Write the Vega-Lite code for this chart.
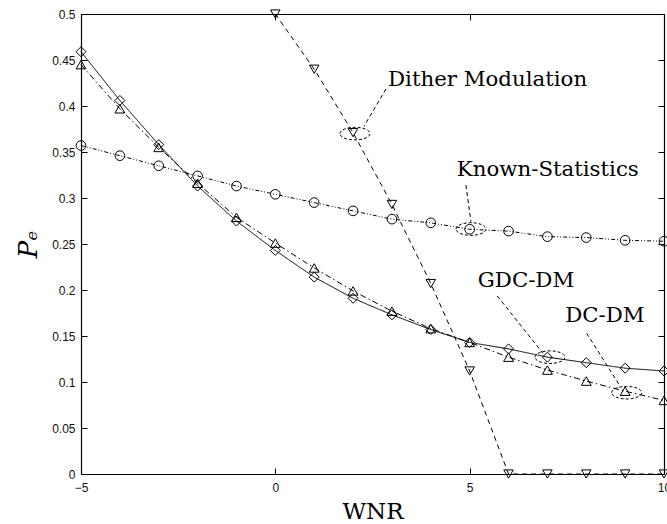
{
  "$schema": "https://vega.github.io/schema/vega-lite/v6.json",
  "width": 583,
  "height": 460,
  "autosize": "none",
  "padding": {"left": 81, "top": 14, "right": 3, "bottom": 50},
  "background": "white",
  "config": {
    "view": {"stroke": null},
    "axis": {
      "grid": false,
      "domainColor": "black",
      "domainWidth": 1.2,
      "tickColor": "black",
      "tickWidth": 1,
      "labelFont": "Liberation Sans",
      "labelFontSize": 12,
      "labelColor": "#111",
      "labelFlush": false,
      "labelOverlap": false
    }
  },
  "datasets": {
    "curves": [
      {"s": "GDC-DM", "x": -5, "y": 0.459}, {"s": "GDC-DM", "x": -4, "y": 0.406}, {"s": "GDC-DM", "x": -3, "y": 0.358}, {"s": "GDC-DM", "x": -2, "y": 0.313},
      {"s": "GDC-DM", "x": -1, "y": 0.275}, {"s": "GDC-DM", "x": 0, "y": 0.243}, {"s": "GDC-DM", "x": 1, "y": 0.214}, {"s": "GDC-DM", "x": 2, "y": 0.191},
      {"s": "GDC-DM", "x": 3, "y": 0.173}, {"s": "GDC-DM", "x": 4, "y": 0.157}, {"s": "GDC-DM", "x": 5, "y": 0.143}, {"s": "GDC-DM", "x": 6, "y": 0.136},
      {"s": "GDC-DM", "x": 7, "y": 0.127}, {"s": "GDC-DM", "x": 8, "y": 0.121}, {"s": "GDC-DM", "x": 9, "y": 0.115}, {"s": "GDC-DM", "x": 10, "y": 0.112},
      {"s": "DC-DM", "x": -5, "y": 0.445}, {"s": "DC-DM", "x": -4, "y": 0.397}, {"s": "DC-DM", "x": -3, "y": 0.355}, {"s": "DC-DM", "x": -2, "y": 0.316},
      {"s": "DC-DM", "x": -1, "y": 0.279}, {"s": "DC-DM", "x": 0, "y": 0.251}, {"s": "DC-DM", "x": 1, "y": 0.224}, {"s": "DC-DM", "x": 2, "y": 0.199},
      {"s": "DC-DM", "x": 3, "y": 0.177}, {"s": "DC-DM", "x": 4, "y": 0.158}, {"s": "DC-DM", "x": 5, "y": 0.143}, {"s": "DC-DM", "x": 6, "y": 0.127},
      {"s": "DC-DM", "x": 7, "y": 0.113}, {"s": "DC-DM", "x": 8, "y": 0.101}, {"s": "DC-DM", "x": 9, "y": 0.09}, {"s": "DC-DM", "x": 10, "y": 0.08},
      {"s": "KS", "x": -5, "y": 0.357}, {"s": "KS", "x": -4, "y": 0.346}, {"s": "KS", "x": -3, "y": 0.335}, {"s": "KS", "x": -2, "y": 0.324},
      {"s": "KS", "x": -1, "y": 0.313}, {"s": "KS", "x": 0, "y": 0.304}, {"s": "KS", "x": 1, "y": 0.295}, {"s": "KS", "x": 2, "y": 0.286},
      {"s": "KS", "x": 3, "y": 0.277}, {"s": "KS", "x": 4, "y": 0.273}, {"s": "KS", "x": 5, "y": 0.266}, {"s": "KS", "x": 6, "y": 0.264},
      {"s": "KS", "x": 7, "y": 0.258}, {"s": "KS", "x": 8, "y": 0.257}, {"s": "KS", "x": 9, "y": 0.254}, {"s": "KS", "x": 10, "y": 0.253},
      {"s": "DM", "x": 0, "y": 0.5}, {"s": "DM", "x": 1, "y": 0.44}, {"s": "DM", "x": 2, "y": 0.371}, {"s": "DM", "x": 3, "y": 0.293},
      {"s": "DM", "x": 4, "y": 0.207}, {"s": "DM", "x": 5, "y": 0.112}, {"s": "DM", "x": 6, "y": 0}, {"s": "DM", "x": 7, "y": 0},
      {"s": "DM", "x": 8, "y": 0}, {"s": "DM", "x": 9, "y": 0}, {"s": "DM", "x": 10, "y": 0}
    ],
    "labels": [
      {"label": "Dither Modulation", "x": 5.46, "y": 0.4217},
      {"label": "Known-Statistics", "x": 7.01, "y": 0.3242},
      {"label": "GDC-DM", "x": 6.45, "y": 0.2036},
      {"label": "DC-DM", "x": 8.48, "y": 0.1652}
    ],
    "leaders": [
      {"x": 2.847, "y": 0.4185, "x2": 2.281, "y2": 0.378},
      {"x": 4.905, "y": 0.314, "x2": 5.033, "y2": 0.2742},
      {"x": 5.71, "y": 0.1935, "x2": 6.886, "y2": 0.1312},
      {"x": 8.01, "y": 0.153, "x2": 8.867, "y2": 0.0957}
    ],
    "rings": [
      {"x": 2.049, "y": 0.37},
      {"x": 5.033, "y": 0.2663},
      {"x": 7.066, "y": 0.127},
      {"x": 9.04, "y": 0.0884}
    ]
  },
  "layer": [
    {
      "data": {"name": "curves"},
      "mark": {"type": "line", "color": "black", "strokeWidth": 1},
      "encoding": {
        "x": {"field": "x", "type": "quantitative", "scale": {"domain": [-5, 10], "nice": false, "zero": false},
          "axis": {"orient": "bottom", "values": [-5, 0, 5, 10], "format": "d", "tickSize": -6, "labelPadding": 14,
            "title": "WNR", "titleFont": "DejaVu Serif", "titleFontSize": 23, "titleFontWeight": "normal", "titleColor": "black",
            "titleY": 44, "titleBaseline": "alphabetic"}},
        "y": {"field": "y", "type": "quantitative", "scale": {"domain": [0, 0.5], "nice": false},
          "axis": {"orient": "left", "values": [0, 0.05, 0.1, 0.15, 0.2, 0.25, 0.3, 0.35, 0.4, 0.45, 0.5], "format": "~g", "tickSize": -6, "labelPadding": 12,
            "title": "Pₑ", "titleFont": "DejaVu Serif", "titleFontStyle": "italic", "titleFontSize": 26, "titleFontWeight": "normal", "titleColor": "black",
            "titleX": -53, "titleY": 230, "titleAngle": -90, "titleAlign": "center", "titleBaseline": "middle"}},
        "detail": {"field": "s", "type": "nominal"},
        "strokeDash": {"field": "s", "type": "nominal", "legend": null,
          "scale": {"domain": ["GDC-DM", "DC-DM", "KS", "DM"], "range": [[1, 0], [6, 3, 1.5, 3], [4, 2, 1, 2, 1, 2], [5, 4]]}}
      }
    },
    {
      "data": {"name": "curves"},
      "mark": {"type": "point", "filled": false, "stroke": "black", "strokeWidth": 1, "opacity": 1},
      "encoding": {
        "x": {"field": "x", "type": "quantitative", "axis": null},
        "y": {"field": "y", "type": "quantitative", "axis": null},
        "shape": {"field": "s", "type": "nominal", "legend": null,
          "scale": {"domain": ["GDC-DM", "DC-DM", "KS", "DM"], "range": ["diamond", "triangle-up", "circle", "triangle-down"]}},
        "size": {"field": "s", "type": "nominal", "legend": null,
          "scale": {"domain": ["GDC-DM", "DC-DM", "KS", "DM"], "range": [100, 90, 56, 90]}}
      }
    },
    {
      "data": {"name": "leaders"},
      "mark": {"type": "rule", "color": "black", "strokeWidth": 1, "strokeDash": [4, 3]},
      "encoding": {
        "x": {"field": "x", "type": "quantitative", "axis": null},
        "y": {"field": "y", "type": "quantitative", "axis": null},
        "x2": {"field": "x2"},
        "y2": {"field": "y2"}
      }
    },
    {
      "data": {"name": "rings"},
      "mark": {"type": "point", "filled": false, "stroke": "black", "strokeWidth": 1, "strokeDash": [3, 2], "opacity": 1, "size": 900,
        "shape": "M -1 0 C -1 -0.232 -0.552 -0.42 0 -0.42 C 0.552 -0.42 1 -0.232 1 0 C 1 0.232 0.552 0.42 0 0.42 C -0.552 0.42 -1 0.232 -1 0 Z"},
      "encoding": {
        "x": {"field": "x", "type": "quantitative", "axis": null},
        "y": {"field": "y", "type": "quantitative", "axis": null}
      }
    },
    {
      "data": {"name": "labels"},
      "mark": {"type": "text", "font": "DejaVu Serif", "fontSize": 21.3, "color": "black", "align": "center", "baseline": "alphabetic"},
      "encoding": {
        "x": {"field": "x", "type": "quantitative", "axis": null},
        "y": {"field": "y", "type": "quantitative", "axis": null},
        "text": {"field": "label"}
      }
    },
    {
      "data": {"name": "curves"},
      "mark": {"type": "point", "opacity": 0},
      "encoding": {
        "x": {"field": "x", "type": "quantitative",
          "axis": {"orient": "top", "values": [-5, 0, 5, 10], "labels": false, "tickSize": -6, "title": null}},
        "y": {"field": "y", "type": "quantitative",
          "axis": {"orient": "right", "values": [0, 0.05, 0.1, 0.15, 0.2, 0.25, 0.3, 0.35, 0.4, 0.45, 0.5], "labels": false, "tickSize": -6, "title": null}}
      }
    }
  ],
  "resolve": {"axis": {"x": "independent", "y": "independent"}}
}
